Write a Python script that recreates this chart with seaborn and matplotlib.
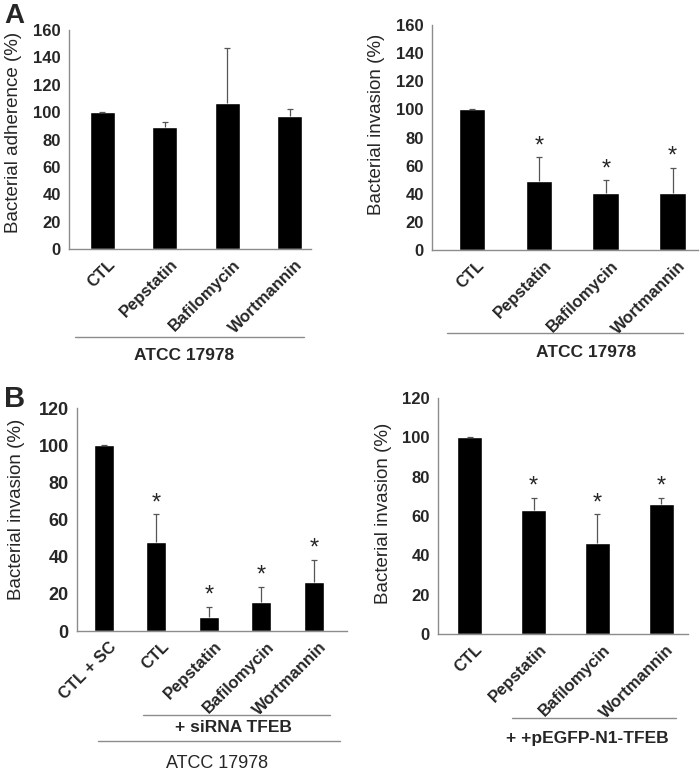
import matplotlib
matplotlib.use("Agg")
import matplotlib.pyplot as plt
import matplotlib.transforms as mtransforms
from matplotlib.lines import Line2D
import seaborn as sns
import pandas as pd
import numpy as np

# ---- data ----
cats_a = ["CTL", "Pepstatin", "Bafilomycin", "Wortmannin"]
adherence_mean = [100, 89, 107, 97.5]
adherence_err = [0, 3.7, 39.7, 4.5]

invasion_a_mean = [100, 49, 40.5, 40.5]
invasion_a_err = [0, 17, 9, 18]
invasion_a_sig = [False, True, True, True]

cats_b1 = ["CTL + SC", "CTL", "Pepstatin", "Bafilomycin", "Wortmannin"]
invasion_b1_mean = [100, 48, 7.7, 15.8, 26.3]
invasion_b1_err = [0, 14.7, 5.3, 8, 11.9]
invasion_b1_sig = [False, True, True, True, True]

cats_b2 = ["CTL", "Pepstatin", "Bafilomycin", "Wortmannin"]
invasion_b2_mean = [100, 63.2, 46.5, 66.2]
invasion_b2_err = [0.3, 6.2, 14.5, 3.2]
invasion_b2_sig = [False, True, True, True]

sns.set_theme(style="white")
plt.rcParams["font.family"] = ["Liberation Sans", "DejaVu Sans"]

W, H = 700, 774
fig = plt.figure(figsize=(W / 100, H / 100), dpi=100)


def add_ax(l, r, t, b):
    return fig.add_axes([l / W, 1 - b / H, (r - l) / W, (b - t) / H])


def panel(ax, cats, mean, err, sig, ymax, step, ylabel, xlim, width,
          lab_xy, tick_fs=12, cat_fs=12):
    df = pd.DataFrame({"cat": cats, "val": mean})
    sns.barplot(data=df, x="cat", y="val", color="black", width=width,
                errorbar=None, ax=ax, saturation=1)
    x = np.arange(len(cats))
    _, caps, _ = ax.errorbar(x, mean, yerr=[np.zeros(len(err)), err],
                             fmt="none", ecolor="#555555", elinewidth=0.9,
                             capsize=2, capthick=0.9)
    caps[0].set_visible(False)
    if sig is not None:
        for xi, m, e, s in zip(x, mean, err, sig):
            if s:
                ax.annotate("*", (xi, m + e), xytext=(0, 0),
                            textcoords="offset points", ha="center",
                            va="bottom", fontsize=17)
    ax.set_ylim(0, ymax)
    ax.set_xlim(*xlim)
    ax.set_yticks(np.arange(0, ymax + 1, step))
    ax.set_ylabel(ylabel, fontsize=13.5)
    ax.yaxis.set_label_coords(*lab_xy)
    ax.set_xlabel("")
    for s in ["top", "right"]:
        ax.spines[s].set_visible(False)
    for s in ["left", "bottom"]:
        ax.spines[s].set_color("#8c8c8c")
        ax.spines[s].set_linewidth(1.0)
    ax.tick_params(axis="y", direction="out", length=3, width=0.8,
                   color="#8c8c8c", pad=3, labelsize=tick_fs)
    ax.tick_params(axis="x", length=0, pad=2)
    for lab in ax.get_yticklabels():
        lab.set_fontweight("bold")
    ax.set_xticks(x)
    ax.set_xticklabels(cats, rotation=45, ha="right", rotation_mode="anchor",
                       fontsize=cat_fs, fontweight="bold")
    off = mtransforms.ScaledTranslation(0.05, -0.05, fig.dpi_scale_trans)
    for lab in ax.get_xticklabels():
        lab.set_transform(lab.get_transform() + off)


ax1 = add_ax(69, 311, 30, 249)
panel(ax1, cats_a, adherence_mean, adherence_err, None, 160, 20,
      "Bacterial adherence (%)", (-0.53, 3.34), 0.4, (-0.194, 0.53))

ax2 = add_ax(432, 698, 25, 250)
panel(ax2, cats_a, invasion_a_mean, invasion_a_err, invasion_a_sig, 160, 20,
      "Bacterial invasion (%)", (-0.6, 3.38), 0.4, (-0.177, 0.56))

ax3 = add_ax(77, 347, 408, 631)
panel(ax3, cats_b1, invasion_b1_mean, invasion_b1_err, invasion_b1_sig, 120, 20,
      "Bacterial invasion (%)", (-0.514, 4.63), 0.38, (-0.193, 0.547),
      tick_fs=13, cat_fs=12)

ax4 = add_ax(438, 688, 398, 634)
panel(ax4, cats_b2, invasion_b2_mean, invasion_b2_err, invasion_b2_sig, 120, 20,
      "Bacterial invasion (%)", (-0.5, 3.42), 0.39, (-0.184, 0.51))


def hline(x0, x1, y):
    fig.add_artist(Line2D([x0 / W, x1 / W], [1 - y / H, 1 - y / H],
                          transform=fig.transFigure, color="#8c8c8c", lw=1.0))


def ftext(x, y, s, **kw):
    fig.text(x / W, 1 - y / H, s, ha="center", va="center", **kw)


hline(75, 304, 337)
ftext(184, 356, "ATCC 17978", fontsize=12.5, fontweight="bold")
hline(447, 683, 333)
ftext(586, 352, "ATCC 17978", fontsize=12.5, fontweight="bold")

hline(143, 330, 715)
ftext(233, 728, "+ siRNA TFEB", fontsize=12.5, fontweight="bold")
hline(98, 340, 741)
ftext(217, 763, "ATCC 17978", fontsize=13)

hline(512, 676, 718)
ftext(587, 739, "+ +pEGFP-N1-TFEB", fontsize=12.5, fontweight="bold")

fig.text(4 / W, 1 - 23 / H, "A", fontsize=20, fontweight="bold", ha="left",
         va="baseline")
fig.text(4 / W, 1 - 407 / H, "B", fontsize=21, fontweight="bold", ha="left",
         va="baseline")

fig.savefig("out.png", dpi=100)
